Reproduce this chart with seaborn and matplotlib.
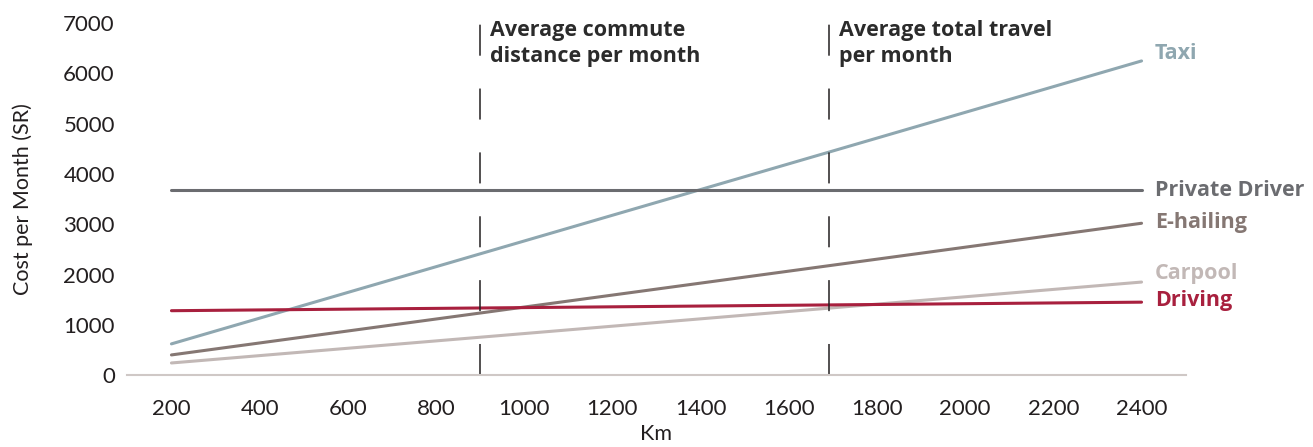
import pandas as pd
import numpy as np
import matplotlib.pyplot as plt
import seaborn as sns

# data (cost per month in SR at 200 km and 2400 km)
modes = ['Taxi', 'Private Driver', 'E-hailing', 'Carpool', 'Driving']
km = [200, 2400]
taxi = [620, 6250]
private_driver = [3680, 3680]
e_hailing = [400, 3020]
carpool = [240, 1850]
driving = [1280, 1450]
markers_km = [900, 1692]
marker_labels = ['Average commute\ndistance per month', 'Average total travel\nper month']
x_ticks = [200, 400, 600, 800, 1000, 1200, 1400, 1600, 1800, 2000, 2200, 2400]
y_ticks = [0, 1000, 2000, 3000, 4000, 5000, 6000, 7000]

colors = {'Taxi': '#8fa7b0', 'Private Driver': '#6b6c70', 'E-hailing': '#857773',
          'Carpool': '#c2b8b6', 'Driving': '#a8203e'}

values = [taxi, private_driver, e_hailing, carpool, driving]
df = pd.DataFrame({
    'Km': km * len(modes),
    'Cost': [v for vals in values for v in vals],
    'Mode': [m for m in modes for _ in km],
})

sns.set_theme(style='white')
plt.rcParams['font.family'] = ['Lato', 'DejaVu Sans']
text_col = '#231f20'
bold_font = ['Open Sans', 'DejaVu Sans']

fig, ax = plt.subplots(figsize=(13.13, 4.47), dpi=100)
sns.lineplot(data=df, x='Km', y='Cost', hue='Mode', palette=colors, linewidth=2.2,
             legend=False, ax=ax)

# dashed reference lines with labels
for xm, lab in zip(markers_km, marker_labels):
    ax.vlines(xm, 0, 7020, colors=text_col, linewidth=1.1, linestyles=(0, (20.3, 21.5)))
    ax.text(xm + 22, 7060, lab, fontsize=15.5, fontweight='bold', color='#2b2b2b',
            va='top', ha='left', linespacing=1.28, family=bold_font)

# end labels
label_y = {'Taxi': 6400, 'Private Driver': 3680, 'E-hailing': 3040,
           'Carpool': 2030, 'Driving': 1480}
for m in modes:
    ax.text(2430, label_y[m], m, color=colors[m], fontsize=15.5, fontweight='bold',
            va='center', ha='left', family=bold_font)

ax.set_xlim(100, 2500)
ax.set_ylim(0, 7000)
ax.set_xticks(x_ticks)
ax.set_yticks(y_ticks)
ax.tick_params(axis='both', length=0, labelsize=16, colors=text_col)
ax.tick_params(axis='x', pad=17)
ax.tick_params(axis='y', pad=9)
ax.set_xlabel('Km', fontsize=15.5, color=text_col, labelpad=4)
ax.set_ylabel('Cost per Month (SR)', fontsize=15.5, color=text_col, labelpad=22)

sns.despine(ax=ax, left=True, top=True, right=True)
ax.spines['bottom'].set_color('#cfc8c6')
ax.spines['bottom'].set_linewidth(1.5)

plt.subplots_adjust(left=0.097, right=0.903, top=0.948, bottom=0.161)
plt.savefig('out.png', dpi=100)
